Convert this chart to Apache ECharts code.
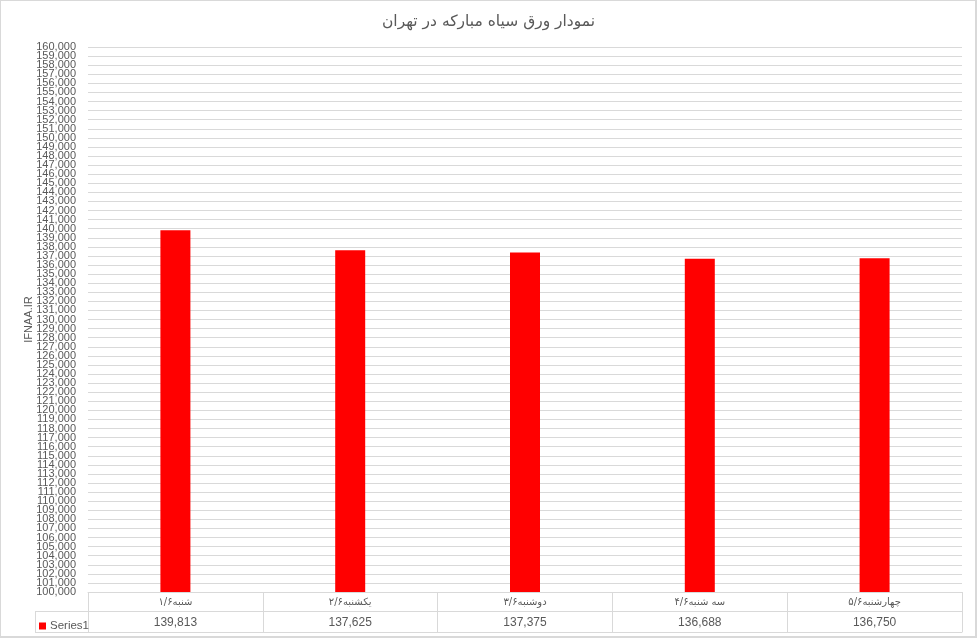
<!DOCTYPE html>
<html>
<head>
<meta charset="utf-8">
<script src="https://cdn.jsdelivr.net/npm/echarts@6/dist/echarts.min.js"></script>
<style>
  html, body { margin: 0; padding: 0; background: #fff; }
  #chart { width: 977px; height: 639px; }
</style>
</head>
<body>
<div id="chart"></div>
<script>
// داده‌ها
var categories = ['۱/۶شنبه', '۲/۶یکشنبه', '۳/۶دوشنبه', '۴/۶سه شنبه', '۵/۶چهارشنبه'];
var series1 = [139813, 137625, 137375, 136688, 136750];
var yMin = 100000;
var yMax = 160000;
var yStep = 1000;

function fmt(v) {
    return Number(v).toLocaleString('en-US');
}

var grey = '#595959';
var lineCol = '#d9d9d9';
var yLabelStyle = { margin: 12, fontFamily: 'Liberation Sans', fontSize: 11, color: grey };

var chart = echarts.init(document.getElementById('chart'));
chart.setOption({
    animation: false,
    title: {
        text: 'نمودار ورق سیاه مبارکه در تهران',
        left: 'center',
        top: 9,
        textStyle: { fontFamily: 'DejaVu Sans', fontSize: 15.5, fontWeight: 'normal', color: grey }
    },
    legend: {
        left: 34,
        top: 615,
        itemWidth: 7,
        itemHeight: 7,
        itemGap: 4,
        icon: 'rect',
        textStyle: { fontFamily: 'Liberation Sans', fontSize: 11.5, color: grey, padding: [0, 0, 0, -1] },
        data: ['Series1']
    },
    grid: { left: 88, right: 15, top: 47, bottom: 47 },
    xAxis: [
        {
            type: 'category',
            data: categories,
            position: 'bottom',
            axisLine: { lineStyle: { color: lineCol } },
            axisTick: { show: true, length: 40, lineStyle: { color: lineCol } },
            axisLabel: { margin: 5, fontFamily: 'DejaVu Sans', fontSize: 10, color: grey }
        },
        {
            type: 'category',
            data: series1.map(fmt),
            position: 'bottom',
            offset: 19,
            axisLine: { show: true, lineStyle: { color: lineCol } },
            axisTick: { show: false },
            axisLabel: { margin: 6, fontFamily: 'Liberation Sans', fontSize: 12, color: grey }
        },
        {
            type: 'category',
            data: categories,
            position: 'bottom',
            offset: 40,
            axisLine: { show: true, lineStyle: { color: lineCol } },
            axisTick: { show: false },
            axisLabel: { show: false }
        }
    ],
    yAxis: [
        {
            type: 'value',
            min: yMin,
            max: yMax,
            interval: yStep,
            position: 'left',
            name: 'IFNAA.IR',
            nameLocation: 'middle',
            nameGap: 54,
            nameMoveOverlap: false,
            nameTextStyle: { fontFamily: 'Liberation Sans', fontSize: 11, color: grey },
            axisLine: { show: false },
            axisTick: { show: false },
            axisLabel: Object.assign({}, yLabelStyle, { formatter: fmt, showMinLabel: false, showMaxLabel: false }),
            splitLine: { lineStyle: { color: lineCol } }
        },
        {
            // only the end labels, which the first axis drops when they overlap
            type: 'value',
            min: yMin,
            max: yMax,
            interval: yStep,
            position: 'left',
            axisLine: { show: false },
            axisTick: { show: false },
            splitLine: { show: false },
            axisLabel: Object.assign({}, yLabelStyle, {
                showMinLabel: true, showMaxLabel: true,
                formatter: function (v) { return (v === yMin || v === yMax) ? fmt(v) : ''; }
            })
        }
    ],
    series: [{
        name: 'Series1',
        type: 'bar',
        xAxisIndex: 0,
        yAxisIndex: 0,
        data: series1,
        barWidth: 30,
        itemStyle: { color: '#ff0000' }
    }],
    graphic: [
        { type: 'rect', shape: { x: 0, y: 0, width: 976, height: 637 }, style: { fill: 'none', stroke: lineCol, lineWidth: 2 } },
        { type: 'line', shape: { x1: 35, y1: 611.5, x2: 88, y2: 611.5 }, style: { stroke: lineCol, lineWidth: 1 } },
        { type: 'line', shape: { x1: 35, y1: 632.5, x2: 88, y2: 632.5 }, style: { stroke: lineCol, lineWidth: 1 } },
        { type: 'line', shape: { x1: 35.5, y1: 611.5, x2: 35.5, y2: 632.5 }, style: { stroke: lineCol, lineWidth: 1 } }
    ]
});
</script>
</body>
</html>
